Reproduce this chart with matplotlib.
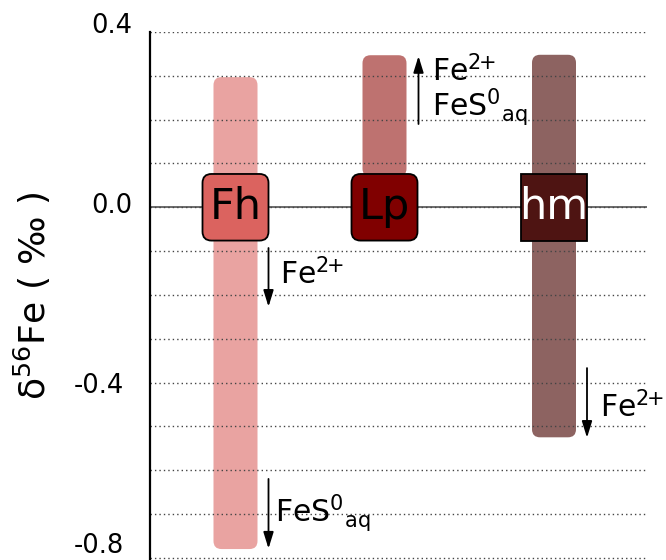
import matplotlib
matplotlib.use('Agg')
import matplotlib.pyplot as plt
from matplotlib.patches import FancyBboxPatch
from matplotlib.ticker import MultipleLocator
import matplotlib.transforms as mtransforms

# delta56Fe ranges of the mineral products (permil)
minerals = ['Fh', 'Lp', 'hm']
range_low = [-0.78, 0.07, -0.525]
range_high = [0.297, 0.347, 0.348]

# fractionation arrows: which mineral, start and end value, species
arrow_mineral = ['Fh', 'Fh', 'Lp', 'hm']
arrow_from = [-0.093, -0.62, 0.19, -0.367]
arrow_to = [-0.227, -0.779, 0.345, -0.526]
fe2 = 'Fe$^{2\\!\\!+}$'
fes = 'FeS$^{0}$$_{\\mathrm{aq}}$'
species_labels = [fe2, fes, fe2 + '\n' + fes, fe2]

yticks = [0.4, 0.0, -0.4, -0.8]
ytick_labels = ['0.4', '0.0', '-0.4', '-0.8']

# layout (x in pixel-like units from the axis line)
xpos = {'Fh': 85.5, 'Lp': 234.5, 'hm': 404}
bar_w = 44
box_w = 66
box_h = 0.152
bar_col = {'Fh': '#E9A3A1', 'Lp': '#BE7270', 'hm': '#8D6361'}
box_col = {'Fh': '#DB635F', 'Lp': '#800000', 'hm': '#4E1412'}
txt_col = {'Fh': 'black', 'Lp': 'black', 'hm': 'white'}
arrow_dx = {'Fh': 33, 'Lp': 34, 'hm': 33}
# tick label shifts in px (dx, dy), the reference is hand placed
tick_shift = {0.4: (0, 9), 0.0: (0, 4), -0.4: (-8, 0), -0.8: (-8, 15)}

fig = plt.figure(figsize=(6.66, 5.6), dpi=100)
ax = fig.add_axes([150/666, 0.0, 497/666, 1 - 32/560])
ax.set_xlim(0, 497)
ax.set_ylim(-0.805, 0.4)
asp = 1/438.0

for sp in ['top', 'right', 'bottom']:
    ax.spines[sp].set_visible(False)
ax.spines['left'].set_linewidth(1.6)
ax.spines['left'].set_zorder(5)
ax.set_xticks([])
ax.set_yticks(yticks)
ax.set_yticklabels(ytick_labels)
ax.yaxis.set_minor_locator(MultipleLocator(0.1))
ax.tick_params(axis='y', which='both', length=0, pad=13, labelsize=18.5)
ax.grid(axis='y', which='both', color='#444444', linestyle=(0, (1, 2.2)), linewidth=1.0)
ax.set_axisbelow(False)
for lab, v in zip(ax.get_yticklabels(), yticks):
    dx, dy = tick_shift[v]
    lab.set_transform(lab.get_transform() + mtransforms.ScaledTranslation(dx/100, dy/100, fig.dpi_scale_trans))

ax.axhline(0, color='#444444', lw=1.1, zorder=2.6)

for m, lo, hi in zip(minerals, range_low, range_high):
    x = xpos[m]
    bar = FancyBboxPatch((x - bar_w/2, lo), bar_w, hi - lo,
                         boxstyle='round,pad=0,rounding_size=8', mutation_aspect=asp,
                         facecolor=bar_col[m], edgecolor='none', zorder=1)
    ax.add_patch(bar)
    style = 'square,pad=0' if m == 'hm' else 'round,pad=0,rounding_size=9'
    box = FancyBboxPatch((x - box_w/2, -box_h/2), box_w, box_h,
                         boxstyle=style, mutation_aspect=asp,
                         facecolor=box_col[m], edgecolor='black', lw=1.3, zorder=4)
    ax.add_patch(box)
    ax.text(x, 0.0, m, ha='center', va='center', fontsize=31, color=txt_col[m], zorder=6)

# text anchors (left x, baseline y)
text_pos = [(130, -0.177), (125, -0.718), (282, 0.287), (450, -0.48)]
for m, a0, a1, lab, (tx, ty) in zip(arrow_mineral, arrow_from, arrow_to, species_labels, text_pos):
    ax_x = xpos[m] + arrow_dx[m]
    ax.annotate('', xy=(ax_x, a1), xytext=(ax_x, a0),
                arrowprops=dict(arrowstyle='-|>,head_length=0.55,head_width=0.17',
                                mutation_scale=18, lw=1.3, color='black',
                                shrinkA=0, shrinkB=0), zorder=6)
    if '\n' in lab:
        first, second = lab.split('\n')
        ax.text(tx, ty, first, ha='left', va='baseline', fontsize=21.5, zorder=6)
        ax.text(tx, 0.207, second, ha='left', va='baseline', fontsize=21.5, zorder=6)
    else:
        ax.text(tx, ty, lab, ha='left', va='baseline', fontsize=21.5, zorder=6, clip_on=False)

ax.set_ylabel('δ$^{56}$Fe ( ‰ )', fontsize=26)
ax.yaxis.set_label_coords(-0.195, 0.5)

fig.savefig('out.png', dpi=100)
